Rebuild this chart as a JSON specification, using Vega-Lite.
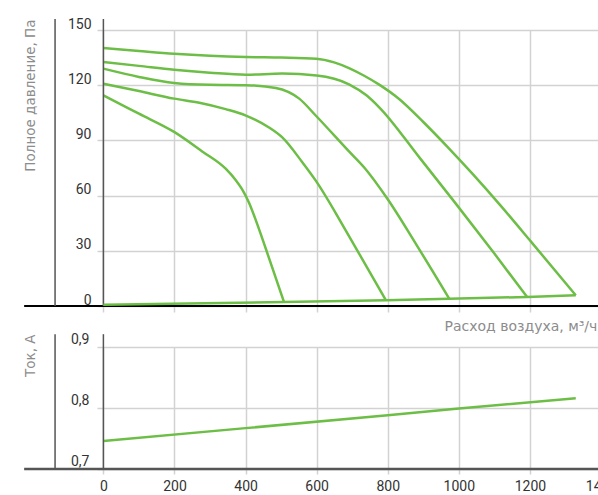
{
  "$schema": "https://vega.github.io/schema/vega-lite/v6.json",
  "padding": {"left": 22, "top": 17, "right": 0, "bottom": 0},
  "background": "white",
  "datasets": {
    "pressure": [
      {"curve": "1", "flow": 0, "pressure": 114.5},
      {"curve": "1", "flow": 100, "pressure": 104.5},
      {"curve": "1", "flow": 199, "pressure": 94.6},
      {"curve": "1", "flow": 278, "pressure": 84},
      {"curve": "1", "flow": 344, "pressure": 74.6},
      {"curve": "1", "flow": 372, "pressure": 68.5},
      {"curve": "1", "flow": 390, "pressure": 63.5},
      {"curve": "1", "flow": 410, "pressure": 56},
      {"curve": "1", "flow": 430, "pressure": 46},
      {"curve": "1", "flow": 457, "pressure": 31.1},
      {"curve": "1", "flow": 508, "pressure": 2.2},
      {"curve": "2", "flow": 0, "pressure": 120.8},
      {"curve": "2", "flow": 100, "pressure": 116.8},
      {"curve": "2", "flow": 199, "pressure": 112.7},
      {"curve": "2", "flow": 270, "pressure": 110.5},
      {"curve": "2", "flow": 344, "pressure": 107},
      {"curve": "2", "flow": 401, "pressure": 103.5},
      {"curve": "2", "flow": 466, "pressure": 97},
      {"curve": "2", "flow": 504, "pressure": 91.5},
      {"curve": "2", "flow": 559, "pressure": 78.3},
      {"curve": "2", "flow": 598, "pressure": 68},
      {"curve": "2", "flow": 663, "pressure": 47.4},
      {"curve": "2", "flow": 691, "pressure": 38},
      {"curve": "2", "flow": 795, "pressure": 3.1},
      {"curve": "3", "flow": 0, "pressure": 129},
      {"curve": "3", "flow": 100, "pressure": 124.5},
      {"curve": "3", "flow": 199, "pressure": 121.2},
      {"curve": "3", "flow": 300, "pressure": 120.2},
      {"curve": "3", "flow": 401, "pressure": 120},
      {"curve": "3", "flow": 485, "pressure": 118.5},
      {"curve": "3", "flow": 551, "pressure": 112.7},
      {"curve": "3", "flow": 598, "pressure": 103.4},
      {"curve": "3", "flow": 691, "pressure": 84},
      {"curve": "3", "flow": 735, "pressure": 75},
      {"curve": "3", "flow": 800, "pressure": 58},
      {"curve": "3", "flow": 880, "pressure": 33.5},
      {"curve": "3", "flow": 973, "pressure": 4.0},
      {"curve": "4", "flow": 0, "pressure": 132.6},
      {"curve": "4", "flow": 100, "pressure": 130.5},
      {"curve": "4", "flow": 199, "pressure": 128.4},
      {"curve": "4", "flow": 300, "pressure": 126.8},
      {"curve": "4", "flow": 401, "pressure": 125.7},
      {"curve": "4", "flow": 503, "pressure": 126.3},
      {"curve": "4", "flow": 600, "pressure": 125.3},
      {"curve": "4", "flow": 691, "pressure": 120.5},
      {"curve": "4", "flow": 740, "pressure": 114.5},
      {"curve": "4", "flow": 776, "pressure": 108},
      {"curve": "4", "flow": 890, "pressure": 80.5},
      {"curve": "4", "flow": 992, "pressure": 55.5},
      {"curve": "4", "flow": 1100, "pressure": 28.5},
      {"curve": "4", "flow": 1192, "pressure": 4.9},
      {"curve": "5", "flow": 0, "pressure": 140.2},
      {"curve": "5", "flow": 100, "pressure": 138.6},
      {"curve": "5", "flow": 199, "pressure": 137.1},
      {"curve": "5", "flow": 300, "pressure": 136},
      {"curve": "5", "flow": 401, "pressure": 135.3},
      {"curve": "5", "flow": 500, "pressure": 135},
      {"curve": "5", "flow": 599, "pressure": 134.4},
      {"curve": "5", "flow": 649, "pressure": 132.4},
      {"curve": "5", "flow": 691, "pressure": 129.3},
      {"curve": "5", "flow": 735, "pressure": 125},
      {"curve": "5", "flow": 776, "pressure": 120.3},
      {"curve": "5", "flow": 832, "pressure": 112.5},
      {"curve": "5", "flow": 900, "pressure": 100},
      {"curve": "5", "flow": 968, "pressure": 86.5},
      {"curve": "5", "flow": 1040, "pressure": 71.5},
      {"curve": "5", "flow": 1120, "pressure": 54},
      {"curve": "5", "flow": 1203, "pressure": 35},
      {"curve": "5", "flow": 1329, "pressure": 5.8},
      {"curve": "system", "flow": 0, "pressure": 0.7},
      {"curve": "system", "flow": 508, "pressure": 2.2},
      {"curve": "system", "flow": 795, "pressure": 3.1},
      {"curve": "system", "flow": 973, "pressure": 4.0},
      {"curve": "system", "flow": 1192, "pressure": 4.9},
      {"curve": "system", "flow": 1329, "pressure": 5.8}
    ],
    "current": [
      {"flow": 0, "current": 0.746},
      {"flow": 400, "current": 0.767},
      {"flow": 800, "current": 0.788},
      {"flow": 1000, "current": 0.799},
      {"flow": 1329, "current": 0.816}
    ]
  },
  "config": {
    "view": {"stroke": null},
    "axis": {
      "grid": true,
      "gridColor": "#d2d2d2",
      "gridWidth": 1.5,
      "labelFont": "Roboto",
      "labelFontSize": 14,
      "labelColor": "#333333",
      "labelFlush": false,
      "labelOverlap": false,
      "titleFont": "DejaVu Sans",
      "titleFontSize": 13.5,
      "titleColor": "#8c8c8c",
      "titleFontWeight": "normal"
    }
  },
  "spacing": 41,
  "bounds": "flush",
  "vconcat": [
    {
      "width": 504,
      "height": 276,
      "layer": [
        {
          "data": {"name": "pressure"},
          "transform": [{"filter": "datum.curve !== 'system'"}],
          "mark": {"type": "line", "interpolate": "monotone", "color": "#6dbe46", "strokeWidth": 2.5},
          "encoding": {
            "x": {
              "field": "flow", "type": "quantitative",
              "scale": {"domain": [-18, 1400], "nice": false, "zero": false},
              "axis": {
                "values": [0, 200, 400, 600, 800, 1000, 1200, 1400],
                "grid": true,
                "labels": false, "domain": false,
                "ticks": true, "tickColor": "#d2d2d2", "tickWidth": 1.5, "tickSize": 6,
                "title": "Расход воздуха, м³/ч",
                "titleFontSize": 14,
                "titleAnchor": "start", "titleAlign": "left", "titleBaseline": "alphabetic",
                "titleX": 347, "titleY": 24
              }
            },
            "y": {
              "field": "pressure", "type": "quantitative",
              "scale": {"domain": [0, 150], "nice": false},
              "axis": {
                "values": [0, 30, 60, 90, 120, 150],
                "grid": true,
                "domain": false, "ticks": false, "tickSize": 0,
                "labelPadding": 6, "labelBaseline": "alphabetic", "labelOffset": -2,
                "title": "Полное давление, Па",
                "titleAngle": 270, "titleAlign": "right", "titleBaseline": "alphabetic",
                "titleX": -63, "titleY": -11
              }
            },
            "detail": {"field": "curve", "type": "nominal"}
          }
        },
        {
          "data": {"values": [{}]},
          "mark": {"type": "rule", "color": "#000000", "strokeWidth": 2},
          "encoding": {"x": {"datum": -223}, "x2": {"datum": 1400}, "y": {"datum": 0}}
        },
        {
          "data": {"values": [{}]},
          "mark": {"type": "rule", "color": "#555555", "strokeWidth": 1.5},
          "encoding": {"x": {"datum": 0}, "y": {"datum": 0}, "y2": {"datum": 156}}
        },
        {
          "data": {"values": [{}]},
          "mark": {"type": "rule", "color": "#555555", "strokeWidth": 1.5},
          "encoding": {"x": {"datum": -136}, "y": {"datum": 0}, "y2": {"datum": 156}}
        },
        {
          "data": {"name": "pressure"},
          "transform": [{"filter": "datum.curve === 'system'"}],
          "mark": {"type": "line", "color": "#6dbe46", "strokeWidth": 2.5},
          "encoding": {
            "x": {"field": "flow", "type": "quantitative"},
            "y": {"field": "pressure", "type": "quantitative"}
          }
        }
      ]
    },
    {
      "width": 504,
      "height": 122,
      "layer": [
        {
          "data": {"name": "current"},
          "mark": {"type": "line", "color": "#6dbe46", "strokeWidth": 2.5},
          "encoding": {
            "x": {
              "field": "flow", "type": "quantitative",
              "scale": {"domain": [-18, 1400], "nice": false, "zero": false},
              "axis": {
                "values": [0, 200, 400, 600, 800, 1000, 1200, 1400],
                "labelExpr": "format(datum.value, 'd')",
                "grid": true,
                "domain": false,
                "ticks": true, "tickColor": "#d2d2d2", "tickWidth": 1.5, "tickSize": 5,
                "labelPadding": 5,
                "title": null
              }
            },
            "y": {
              "field": "current", "type": "quantitative",
              "scale": {"domain": [0.7, 0.9], "nice": false, "zero": false},
              "axis": {
                "values": [0.7, 0.8, 0.9],
                "labelExpr": "replace(format(datum.value, '.1f'), '.', ',')",
                "grid": true,
                "domain": false, "ticks": false, "tickSize": 0,
                "labelPadding": 8, "labelBaseline": "alphabetic", "labelOffset": -4,
                "title": "Ток, А",
                "titleAngle": 270, "titleAlign": "right", "titleBaseline": "alphabetic",
                "titleX": -63, "titleY": -13
              }
            }
          }
        },
        {
          "data": {"values": [{}]},
          "mark": {"type": "rule", "color": "#555555", "strokeWidth": 2.5},
          "encoding": {"x": {"datum": -223}, "x2": {"datum": 1400}, "y": {"datum": 0.7}}
        },
        {
          "data": {"values": [{}]},
          "mark": {"type": "rule", "color": "#555555", "strokeWidth": 1.5},
          "encoding": {"x": {"datum": 0}, "y": {"datum": 0.7}, "y2": {"datum": 0.921}}
        },
        {
          "data": {"values": [{}]},
          "mark": {"type": "rule", "color": "#555555", "strokeWidth": 1.5},
          "encoding": {"x": {"datum": -136}, "y": {"datum": 0.7}, "y2": {"datum": 0.921}}
        }
      ]
    }
  ]
}
